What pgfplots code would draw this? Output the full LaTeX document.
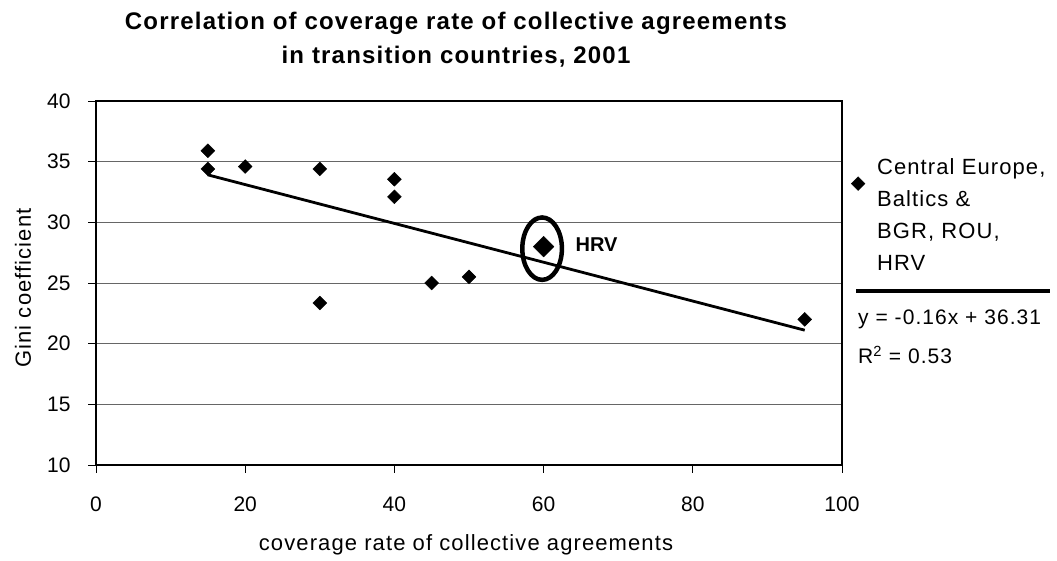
\documentclass[border=0pt]{standalone}
\usepackage{pgfplots}
\pgfplotsset{compat=1.18}
\usepackage{fontspec}
\setmainfont{Liberation Sans}
\newfontfamily\spaced[LetterSpace=5]{Liberation Sans}
\begin{document}
\begin{tikzpicture}[x=1pt,y=1pt]
\path[use as bounding box] (0,0) rectangle (1057,561);
\begin{axis}[
  at={(96pt,96pt)}, anchor=south west, scale only axis,
  width=746pt, height=364pt,
  xmin=0, xmax=100, ymin=10, ymax=40,
  xtick={0,20,...,100}, ytick={10,15,...,40},
  xtick pos=bottom, ytick pos=left, tick align=outside,
  major tick length=8pt,
  tick style={black, line width=0.8pt},
  axis line style={line width=1.5pt},
  ymajorgrids, grid style={black!60, line width=0.9pt},
  /pgf/number format/assume math mode=true,
  ticklabel style={font=\fontsize{21}{24}\selectfont},
  yticklabel style={xshift=-14pt},
  xticklabel style={yshift=-20pt},
  legend style={at={(axis description cs:1.0,0.8525)}, anchor=north west, xshift=6pt,
    draw=none, fill=none, font=\spaced\fontsize{22}{32}\selectfont,
    nodes={align=left}, column sep=10pt},
  legend cell align=left,
  legend image post style={yshift=32pt},
]
\addplot[only marks, mark=square*, mark size=4.9pt, mark options={rotate=45, fill=black, draw=black}]
  coordinates {(15,35.9) (15,34.4) (20,34.6) (30,34.4) (30,23.35) (40,33.55) (40,32.1) (45,25.0) (50,25.5) (95,22.0)};
\addlegendentry{Central Europe,\\Baltics \&\\BGR, ROU,\\HRV}
\addplot[only marks, mark=square*, mark size=7.3pt, mark options={rotate=45, fill=black, draw=black}, forget plot]
  coordinates {(60,28.0)};
\addplot[black, line width=2.8pt, forget plot] coordinates {(15,33.91) (95,21.11)};
\draw[line width=4.5pt] (axis cs:59.8,27.83) ellipse [x radius=19.8pt, y radius=31.2pt];
\node[font=\bfseries\fontsize{20}{24}\selectfont] at (axis cs:67.1,28.15) {HRV};
\end{axis}
\node[align=center, font=\spaced\bfseries\fontsize{24}{34}\selectfont] at (456,521)
  {Correlation of coverage rate of collective agreements\\in transition countries, 2001};
\node[font=\spaced\fontsize{22}{24}\selectfont] at (466,16) {coverage rate of collective agreements};
\node[rotate=90, font=\spaced\fontsize{22}{24}\selectfont] at (23,273) {Gini coefficient};
\draw[line width=4pt] (856,270) -- (1050,270);
\node[anchor=west, inner sep=0pt, font=\spaced\fontsize{21}{24}\selectfont] at (858,242) {y = -0.16x + 36.31};
\node[anchor=west, inner sep=0pt, font=\spaced\fontsize{21}{24}\selectfont] at (858,206) {R\textsuperscript{2} = 0.53};
\end{tikzpicture}
\end{document}
